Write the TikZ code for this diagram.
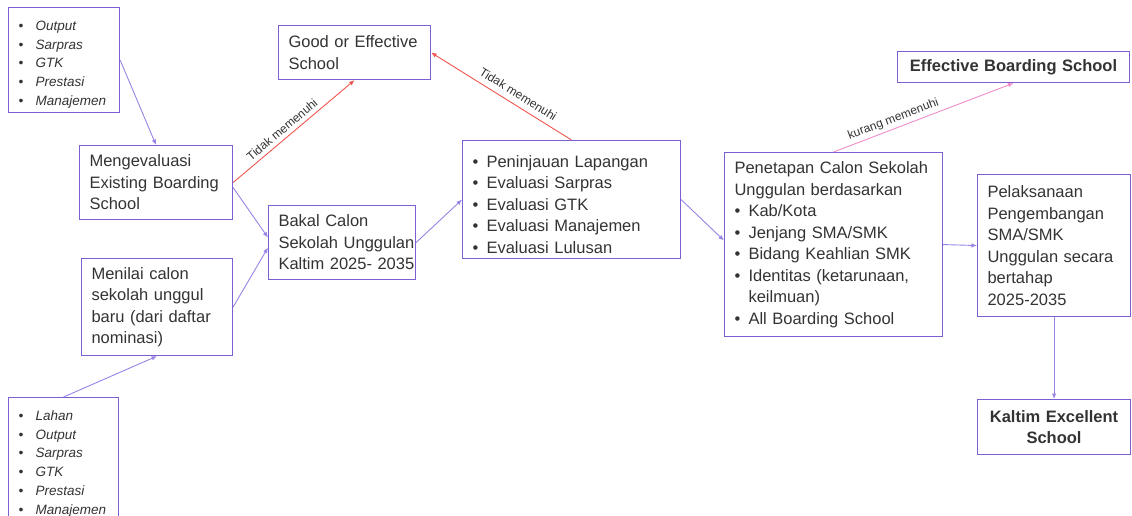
\documentclass[tikz,border=0pt]{standalone}
\usepackage{fontspec}
\setmainfont{Liberation Sans}
\usetikzlibrary{arrows.meta}

\definecolor{boxline}{HTML}{7B5FD3}
\definecolor{arrline}{HTML}{9A82E6}
\definecolor{redline}{HTML}{F0554F}
\definecolor{pinkline}{HTML}{F08DC9}
\definecolor{txt}{HTML}{333333}

% bullet item with hanging indent
\newcommand{\itm}[2][14pt]{\par\hangindent=#1\hangafter=1\noindent\makebox[#1][l]{\textbullet}#2}

\tikzset{
  box/.style={draw=boxline, line width=1.1pt, anchor=north west, inner xsep=10pt, inner ysep=4pt,
    align=left, text=txt, font=\fontsize{16.5}{21.5}\selectfont},
  smallbox/.style={box, font=\fontsize{13.5}{18.8}\selectfont\itshape},
  boldbox/.style={box, align=center, font=\fontsize{16.5}{21.5}\selectfont\bfseries},
  arr/.style={color=arrline, line width=0.9pt, -{Latex[length=5.5pt,width=4.5pt]}},
  lbl/.style={text=txt, font=\fontsize{12}{14}\selectfont, inner sep=1pt}
}

\begin{document}
\begin{tikzpicture}[x=1pt,y=-1pt]
\useasboundingbox (0,0) rectangle (1132,515);
%\draw [help lines] (0,0) grid (1132,515);
\node[smallbox, text width=91pt, minimum height=103pt] (P0) at (8,7)
  {\itm[17pt]{Output}\itm[17pt]{Sarpras}\itm[17pt]{GTK}\itm[17pt]{Prestasi}\itm[17pt]{Manajemen}};
\node[box, text width=133pt, minimum height=74pt] (P1) at (79,145) {Mengevaluasi\\Existing Boarding\\School};
\node[box, text width=132pt, minimum height=54pt] (P2) at (278,25) {Good or Effective\\School};
\node[box, text width=127pt, minimum height=74pt] (P3) at (268,205) {Bakal Calon\\\mbox{Sekolah Unggulan}\\\mbox{Kaltim 2025- 2035}};
\node[box, text width=131pt, minimum height=97pt] (P4) at (81,258) {Menilai calon\\sekolah unggul\\baru (dari daftar\\nominasi)};

% list for new schools
\node[smallbox, text width=90pt, minimum height=120pt] (P5) at (8,397)
  {\itm[17pt]{Lahan}\itm[17pt]{Output}\itm[17pt]{Sarpras}\itm[17pt]{GTK}\itm[17pt]{Prestasi}\itm[17pt]{Manajemen}};

\node[box, text width=198pt, minimum height=118pt] (P6) at (462,140)
  {\itm{Peninjauan Lapangan}\itm{Evaluasi Sarpras}\itm{Evaluasi GTK}\itm{Evaluasi Manajemen}\itm{Evaluasi Lulusan}};
\node[box, text width=198pt, minimum height=184pt] (P7) at (724,152)
  {Penetapan Calon Sekolah\\Unggulan berdasarkan
   \itm{Kab/Kota}\itm{Jenjang SMA/SMK}\itm{Bidang Keahlian SMK}\itm{Identitas (ketarunaan, keilmuan)}\itm{All Boarding School}};

% right column
\node[boldbox, text width=212pt, minimum height=31pt] (P8) at (897,51) {Effective Boarding School};
\node[box, text width=133pt, minimum height=142pt] (P9) at (977,174)
  {Pelaksanaan\\Pengembangan\\SMA/SMK\\Unggulan secara\\bertahap\\2025-2035};
\node[boldbox, text width=133pt, minimum height=55pt] (P10) at (977,399) {Kaltim Excellent\\School};

\path[arr]
% list to Mengevaluasi
(P0.east) edge (P1.north)

% Mengevaluasi to Good or Effective
(P1.east) edge[draw=redline] node[lbl, sloped, above=3pt, pos=0.45] {Tidak memenuhi} (P2.south)

% into Bakal Calon
([yshift=-5pt]P1.east) edge ([yshift=5pt]P3.west)
(P4.east) edge ([yshift=-5pt]P3.west)

% list to Menilai
(P5.north) edge (P4.south)

% Bakal Calon to evaluasi
(P3.east) edge (P6.west)

% evaluasi back to Good or Effective
(P6.north) edge[draw=redline] node[lbl, sloped, above=5pt, pos=0.42] {Tidak memenuhi} (P2.east)

% evaluasi to Penetapan
(P6.east) edge ([yshift=4pt]P7.west)

% Penetapan to Effective Boarding
(P7.north) edge[draw=pinkline] node[lbl, sloped, above=2pt, pos=0.35] {kurang memenuhi} (P8.south)

% Penetapan to Pelaksanaan
(P7.east) edge (P9.west)

% Pelaksanaan to Kaltim Excellent
(P9.south) edge (P10.north);

\end{tikzpicture}
\end{document}
